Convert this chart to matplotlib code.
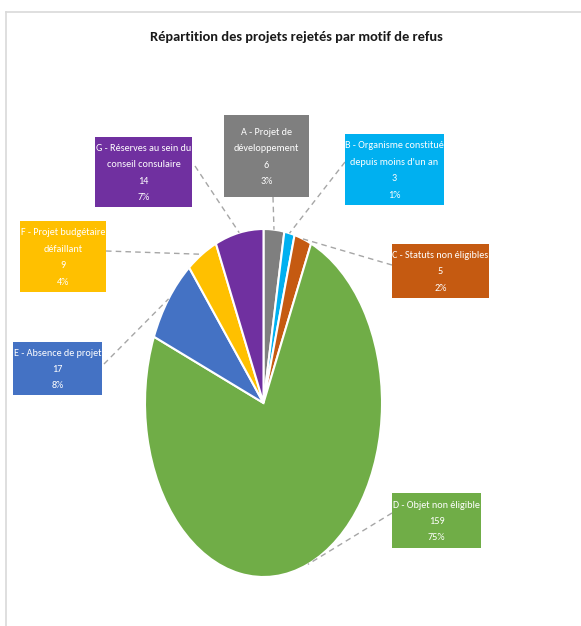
import matplotlib.pyplot as plt
from matplotlib.patches import Rectangle
import numpy as np

plt.rcParams['font.family'] = ['Carlito', 'DejaVu Sans']

# data
labels = ["A - Projet de\ndéveloppement",
          "B - Organisme constitué\ndepuis moins d'un an",
          "C - Statuts non éligibles",
          "D - Objet non éligible",
          "E - Absence de projet",
          "F - Projet budgétaire\ndéfaillant",
          "G - Réserves au sein du\nconseil consulaire"]
counts = [6, 3, 5, 159, 17, 9, 14]
colors = ["#7F7F7F", "#00B0F0", "#C55A11", "#70AD47", "#4472C4", "#FFC000", "#7030A0"]

W, H = 581, 626
fig = plt.figure(figsize=(W / 100, H / 100), dpi=100)

# pie is an ellipse in the original, so the axes has free aspect
px0, py0, px1, py1 = 145, 229, 382, 577
ax = fig.add_axes([px0 / W, 1 - py1 / H, (px1 - px0) / W, (py1 - py0) / H])
wedges, _ = ax.pie(counts, colors=colors, startangle=90, counterclock=False,
                   wedgeprops=dict(edgecolor="white", linewidth=1.5))
ax.set_aspect('auto')
ax.set_xlim(-1, 1)
ax.set_ylim(-1, 1)
ax.axis('off')

# overlay in pixel coords (y down)
ov = fig.add_axes([0, 0, 1, 1], zorder=5)
ov.set_xlim(0, W)
ov.set_ylim(H, 0)
ov.axis('off')
ov.patch.set_alpha(0)

# frame lines
ov.plot([6, 6], [12, H], color="#D9D9D9", lw=1.2)
ov.plot([6, W], [12, 12], color="#D9D9D9", lw=1.2)

ov.text(296, 37, "Répartition des projets rejetés par motif de refus",
        ha="center", va="center", fontsize=10.4, fontweight="bold", color="#1a1a1a")

# label boxes: (left, top, right, bottom) and leader anchor on box
boxes = [(224, 115, 309, 197), (345, 134, 444, 205), (392, 244, 489, 298),
         (392, 493, 481, 548), (13, 342, 102, 395), (20, 221, 106, 292),
         (95, 137, 192, 207)]
anchors = [(273, 197), (345, 162), (392, 265), (392, 513),
           (104, 364), (106, 251), (195, 166)]

total = sum(counts)
for w, lab, n, col, (l, t, r, b), (axx, ayy) in zip(wedges, labels, counts, colors, boxes, anchors):
    mid = np.deg2rad((w.theta1 + w.theta2) / 2)
    disp = ax.transData.transform((np.cos(mid), np.sin(mid)))
    ex, ey = ov.transData.inverted().transform(disp)
    ov.plot([axx, ex], [ayy, ey], color="#A6A6A6", lw=1, ls=(0, (4, 3)), zorder=1)
    ov.add_patch(Rectangle((l, t), r - l, b - t, facecolor=col, edgecolor="none", zorder=2))
    txt = f"{lab}\n{n}\n{round(100 * n / total)}%"
    ov.text((l + r) / 2, (t + b) / 2 + 1, txt, ha="center", va="center", color="white",
            fontsize=7.3, linespacing=2.05, zorder=3)

fig.savefig("out.png", dpi=100)
